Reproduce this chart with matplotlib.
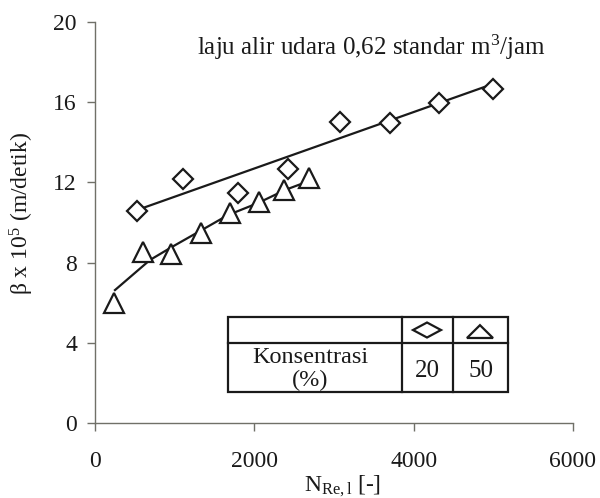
import matplotlib
matplotlib.use("Agg")
import matplotlib.pyplot as plt
from matplotlib.patches import Polygon, Rectangle
from matplotlib.lines import Line2D

plt.rcParams["font.family"] = ["Liberation Serif", "DejaVu Serif"]
plt.rcParams["mathtext.fontset"] = "custom"
plt.rcParams["mathtext.rm"] = "Liberation Serif"
plt.rcParams["mathtext.it"] = "Liberation Serif:italic"

# Reynolds number (x) and beta x 10^5 (y) for the two concentrations
re_20 = [527, 1104, 1795, 2422, 3075, 3702, 4317, 4995]
beta_20 = [10.57, 12.17, 11.47, 12.67, 15.01, 14.96, 15.96, 16.66]

re_50 = [238, 602, 954, 1330, 1694, 2058, 2372, 2686]
beta_50 = [5.99, 8.53, 8.43, 9.48, 10.47, 11.02, 11.62, 12.22]

# trend lines
trend20_x = [527, 4995]
trend20_y = [10.62, 16.91]
trend50_x = [251, 690, 966, 1343, 1669, 2046, 2385, 2686]
trend50_y = [6.63, 8.13, 8.78, 9.63, 10.37, 10.97, 11.62, 12.07]

x_ticks = [0, 2000, 4000, 6000]
y_ticks = [0, 4, 8, 12, 16, 20]
conc_labels = ["20", "50"]

ink = "#1a1a1a"
axis_col = "#707068"

fig = plt.figure(figsize=(6.0, 4.98), dpi=100)
ax = fig.add_axes([0.1583, 0.1506, 0.7967, 0.8052])

ax.plot(trend20_x, trend20_y, color=ink, lw=1.6, zorder=2)
ax.plot(trend50_x, trend50_y, color=ink, lw=1.6, zorder=2)
ax.plot(re_20, beta_20, linestyle="none", marker="D", ms=10.5,
        mfc="white", mec=ink, mew=1.6, zorder=3)
ax.plot(re_50, beta_50, linestyle="none", marker="^", ms=15,
        mfc="white", mec=ink, mew=1.6, zorder=3)

ax.set_xlim(0, 6000)
ax.set_ylim(0, 20)
ax.set_xticks(x_ticks)
ax.set_yticks(y_ticks)
for s in ["top", "right"]:
    ax.spines[s].set_visible(False)
for s in ["left", "bottom"]:
    ax.spines[s].set_color(axis_col)
    ax.spines[s].set_linewidth(1.0)
ax.tick_params(axis="y", direction="out", length=6, width=1.0, color=axis_col,
               pad=7, labelsize=17, labelcolor=ink)
ax.tick_params(axis="x", direction="out", length=6, width=1.0, color=axis_col,
               pad=14, labelsize=17, labelcolor=ink)

# axis titles
fig.text(22 / 600, 1 - 213 / 498, r"β x 10$^5$ (m/detik)", rotation=90,
         ha="center", va="center", fontsize=17, color=ink)
fig.text(343 / 600, 1 - 486 / 498, r"N$_{\mathrm{Re,l}}$ [-]",
         ha="center", va="center", fontsize=17, color=ink)

ax.text(0.579, 0.938, r"laju alir udara 0,62 standar m$^3$/jam",
        transform=ax.transAxes, ha="center", va="center", fontsize=18,
        color=ink)

# concentration key table
T = ax.transAxes
x0, x1 = 0.278, 0.864
y0, y1 = 0.0773, 0.264
ymid = 0.1995
xa, xb = 0.642, 0.749
ax.add_patch(Rectangle((x0, y0), x1 - x0, y1 - y0, transform=T, fill=True,
                       fc="white", ec=ink, lw=1.6, zorder=4))
ax.add_line(Line2D([x0, x1], [ymid, ymid], transform=T, color=ink, lw=1.6, zorder=5))
ax.add_line(Line2D([xa, xa], [y0, y1], transform=T, color=ink, lw=1.6, zorder=5))
ax.add_line(Line2D([xb, xb], [y0, y1], transform=T, color=ink, lw=1.6, zorder=5))

cx_d, cy_d, hw_d, hh_d = 0.6946, 0.2319, 0.0293, 0.0187
ax.add_patch(Polygon([(cx_d - hw_d, cy_d), (cx_d, cy_d + hh_d), (cx_d + hw_d, cy_d),
                      (cx_d, cy_d - hh_d)], closed=True, transform=T,
                     fc="white", ec=ink, lw=1.6, zorder=5))
cx_t, yb_t, ya_t, hw_t = 0.8054, 0.212, 0.244, 0.0272
ax.add_patch(Polygon([(cx_t - hw_t, yb_t), (cx_t, ya_t), (cx_t + hw_t, yb_t)],
                     closed=True, transform=T, fc="white", ec=ink, lw=1.6, zorder=5))

ax.text(0.450, (423 - 357) / 401, "Konsentrasi", transform=T, ha="center",
        va="center", fontsize=17.5, color=ink, zorder=6)
ax.text(0.450, (423 - 380) / 401, "(%)", transform=T, ha="center",
        va="center", fontsize=17.5, color=ink, zorder=6)
ax.text((xa + xb) / 2, (423 - 371) / 401, conc_labels[0], transform=T,
        ha="center", va="center", fontsize=18, color=ink, zorder=6)
ax.text((xb + x1) / 2, (423 - 371) / 401, conc_labels[1], transform=T,
        ha="center", va="center", fontsize=18, color=ink, zorder=6)

fig.savefig("out.png", dpi=100, facecolor="white")
